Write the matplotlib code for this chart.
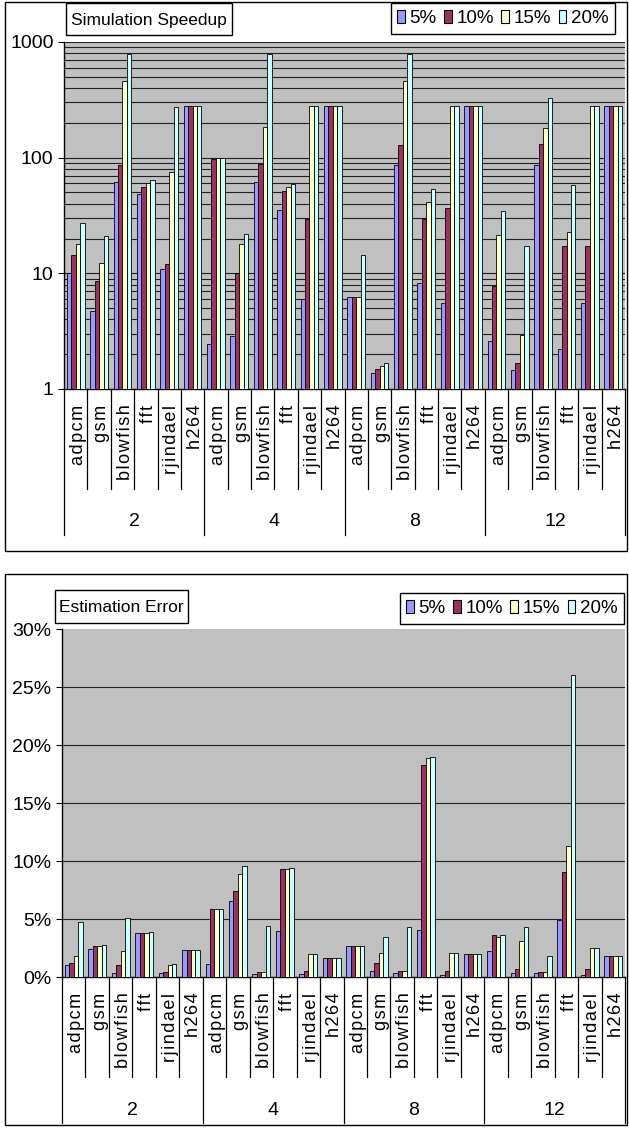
import matplotlib
matplotlib.use("Agg")
import matplotlib.pyplot as plt
import numpy as np
from matplotlib.patches import Patch, Rectangle
from matplotlib.ticker import FixedLocator, PercentFormatter, NullLocator

benchmarks = ["adpcm", "gsm", "blowfish", "fft", "rjindael", "h264"]
cores = ["2", "4", "8", "12"]
series = ["5%", "10%", "15%", "20%"]
colors = ["#9999FF", "#993366", "#FFFFCC", "#CCFFFF"]

# speedup per (cores, benchmark), in the order cores x benchmarks
speedup_5 = [10, 4.7, 61, 49, 10.8, 280,
             2.43, 2.85, 61, 35.5, 6.0, 280,
             6.3, 1.38, 86, 8.25, 5.5, 280,
             2.62, 1.47, 86, 2.23, 5.5, 280]
speedup_10 = [14.4, 8.5, 86, 56, 12, 280,
              98, 10, 88, 52, 29.5, 280,
              6.3, 1.48, 128, 29.5, 37, 280,
              7.8, 1.68, 130, 17.3, 17.3, 280]
speedup_15 = [17.8, 12.3, 460, 60, 75, 280,
              100, 17.8, 185, 56, 280, 280,
              6.3, 1.58, 460, 41, 280, 280,
              21.4, 2.93, 180, 22.8, 280, 280]
speedup_20 = [27.4, 21, 780, 64, 276, 280,
              100, 22, 780, 59, 280, 280,
              14.4, 1.69, 780, 54, 280, 280,
              34.6, 17.3, 330, 58, 280, 280]

# estimation error in percent
error_5 = [1.02, 2.44, 0.35, 3.81, 0.35, 2.33,
           1.13, 6.51, 0.23, 3.95, 0.23, 1.6,
           2.67, 0.55, 0.35, 4.07, 0.2, 1.98,
           2.2, 0.35, 0.35, 4.88, 0.2, 1.83]
error_10 = [1.22, 2.67, 1.02, 3.81, 0.47, 2.33,
            5.9, 7.44, 0.44, 9.27, 0.55, 1.6,
            2.67, 1.25, 0.55, 18.3, 0.55, 1.98,
            3.6, 0.73, 0.44, 9.05, 0.73, 1.83]
error_15 = [1.83, 2.67, 2.2, 3.81, 1.02, 2.33,
            5.9, 8.87, 0.44, 9.27, 1.98, 1.6,
            2.67, 2.06, 0.55, 18.9, 2.06, 1.98,
            3.49, 3.11, 0.44, 11.3, 2.53, 1.83]
error_20 = [4.77, 2.76, 5.09, 3.92, 1.13, 2.33,
            5.9, 9.53, 4.42, 9.42, 1.98, 1.6,
            2.67, 3.49, 4.3, 19.0, 2.06, 1.98,
            3.6, 4.3, 1.83, 26.0, 2.53, 1.83]

FONT = ["Liberation Sans", "DejaVu Sans"]

W, H = 629, 1129
fig = plt.figure(figsize=(W / 100, H / 100), dpi=100)


def fx(px):
    return px / W


def fy(py):
    return 1 - py / H


def rect(x0, y0, x1, y1, **kw):
    r = Rectangle((fx(x0), fy(y1)), fx(x1 - x0), (y1 - y0) / H,
                  transform=fig.transFigure, ec="black", lw=1.0, **kw)
    fig.patches.append(r)


def title_box(text, x0, y0, x1, y1):
    rect(x0, y0, x1, y1, fc="white", zorder=5)
    fig.text(fx((x0 + x1) / 2), fy((y0 + y1) / 2 + 1), text, family=FONT,
             fontsize=12.5, ha="center", va="center", zorder=6)


def legend_box(x, y):
    handles = [Patch(fc=c, ec="black", lw=0.8) for c in colors]
    fig.legend(handles, series, loc="upper right", bbox_to_anchor=(fx(x), fy(y)),
               ncol=4, frameon=True, fancybox=False, edgecolor="black",
               prop=dict(family=FONT, size=13.5), handlelength=0.4,
               handleheight=0.75, handletextpad=0.25, columnspacing=0.4,
               borderpad=0.35, borderaxespad=0.0, framealpha=1)


def spaced(word):
    return "\u200a".join(word)


def draw_bars(ax, data):
    n = len(data[0])
    x = np.arange(n) + 0.5
    w = 0.19
    for k, vals in enumerate(data):
        ax.bar(x + (k - 1.5) * w, vals, width=w, color=colors[k],
               edgecolor="black", linewidth=0.6, zorder=3)
    ax.set_xlim(0, n)
    ax.set_facecolor("#C0C0C0")
    for s in ("top", "right"):
        ax.spines[s].set_visible(False)
    ax.spines["left"].set_linewidth(1.0)
    ax.spines["bottom"].set_linewidth(1.0)
    ax.xaxis.set_major_locator(NullLocator())
    ax.xaxis.set_minor_locator(NullLocator())
    ax.tick_params(axis="y", which="major", length=4, labelsize=14)
    ax.tick_params(axis="y", which="minor", length=0)

    tr = ax.get_xaxis_transform()
    for i in range(n + 1):
        low = -0.42 if i % len(benchmarks) == 0 else -0.287
        ax.plot([i, i], [0, low], transform=tr, clip_on=False, color="black",
                lw=0.9)
    for i in range(n):
        ax.text(i + 0.62, -0.045, spaced(benchmarks[i % len(benchmarks)]),
                transform=tr, rotation=90, ha="center", va="top", family=FONT,
                fontsize=13)
    for g, name in enumerate(cores):
        ax.text((g + 0.5) * len(benchmarks), -0.383, name, transform=tr,
                ha="center", va="center", family=FONT, fontsize=14)


# speedup chart, log scale
rect(5, 2, 627, 551, fill=False)
ax1 = fig.add_axes([fx(64), fy(389), fx(561), 347 / H])
ax1.set_yscale("log")
draw_bars(ax1, [speedup_5, speedup_10, speedup_15, speedup_20])
ax1.set_ylim(1, 1000)
ax1.yaxis.set_major_locator(FixedLocator([1, 10, 100, 1000]))
ax1.set_yticklabels(["1", "10", "100", "1000"], family=FONT, fontsize=14)
minor = [m * 10 ** d for d in range(3) for m in range(2, 10)]
for v in [10, 100, 1000] + minor:
    ax1.axhline(v, color="#202020", lw=0.8, zorder=1)
title_box("Simulation Speedup", 66, 3, 232, 35)
legend_box(615, 3)

# estimation error chart
rect(5, 574, 627, 1125, fill=False)
ax2 = fig.add_axes([fx(62), fy(977), fx(563), 348 / H])
draw_bars(ax2, [error_5, error_10, error_15, error_20])
ax2.set_ylim(0, 30)
ax2.yaxis.set_major_locator(FixedLocator([0, 5, 10, 15, 20, 25, 30]))
ax2.yaxis.set_major_formatter(PercentFormatter(decimals=0))
for lab in ax2.get_yticklabels():
    lab.set_family(FONT)
    lab.set_fontsize(14)
for v in [5, 10, 15, 20, 25]:
    ax2.axhline(v, color="#202020", lw=0.8, zorder=1)
title_box("Estimation Error", 55, 590, 188, 623)
legend_box(624, 593)

fig.savefig("out.png", dpi=100)
